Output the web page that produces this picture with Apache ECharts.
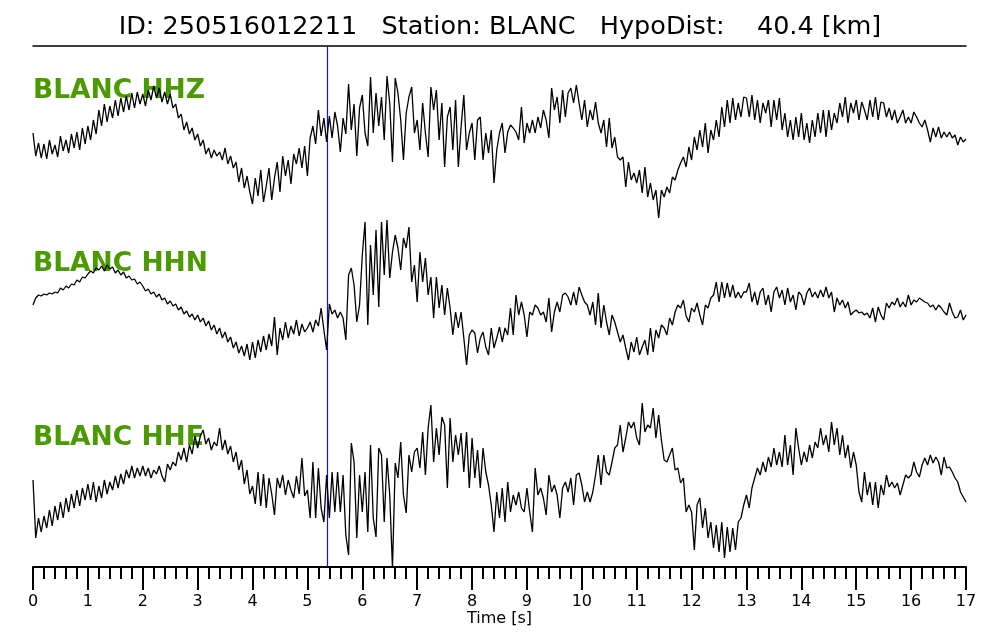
<!DOCTYPE html>
<html><head><meta charset="utf-8">
<script src="https://cdn.jsdelivr.net/npm/echarts@6/dist/echarts.min.js"></script>
<style>html,body{margin:0;padding:0;background:#fff}#c{width:1000px;height:640px}</style>
</head><body><div id="c"></div>
<script>
const eventId = '250516012211';
const station = 'BLANC';
const hypoDist = '40.4';
const channels = ['HHZ', 'HHN', 'HHE'];
const sampleInterval = 0.05; // s between samples
const timeMin = 0, timeMax = 17;
const pickTime = 5.36;

const hhz = [
15,-8,5,-10,4,-11,8,-6,3,-9,12,-3,8,-5,14,0,16,-2,20,4,
22,8,28,14,38,22,44,26,42,30,48,32,50,36,52,38,55,40,56,44,
54,42,58,48,62,50,60,46,56,44,54,40,44,30,34,18,26,14,20,8,
14,2,8,-6,0,-10,-2,-8,-4,-12,0,-16,-8,-20,-14,-34,-20,-40,-28,-44,
-56,-30,-48,-22,-54,-38,-20,-52,-30,-14,-44,-8,-28,-12,-36,-6,-16,0,-20,2,
-28,10,22,4,38,12,30,6,32,10,36,22,-4,30,14,64,18,44,-8,40,
53,15,2,71,15,55,22,51,8,72,45,-14,70,55,28,-12,35,51,61,15,
28,-2,45,15,-9,61,38,58,8,45,-19,31,41,-2,48,-19,21,53,-2,15,
25,-12,28,31,-12,15,-5,18,-35,-2,15,25,-5,16,23,20,16,8,41,5,
25,15,28,15,31,20,38,28,10,60,38,51,25,58,31,55,60,45,63,45,
28,48,21,38,28,46,25,15,28,1,30,0,11,-9,-12,-9,-39,-14,-32,-25,
-35,-22,-45,-19,-49,-35,-52,-42,-70,-42,-49,-39,-45,-29,-32,-22,-15,-9,-19,1,
-12,11,-2,18,1,25,-5,18,8,28,11,41,21,48,25,50,28,45,31,51,
50,31,53,28,48,25,45,35,48,21,48,28,50,18,35,11,28,8,31,11,
35,8,25,5,28,11,35,15,38,11,38,18,35,25,45,31,51,25,45,35,
48,28,46,38,28,48,31,51,28,46,45,31,40,28,38,25,31,38,25,31,
25,36,31,25,21,28,18,6,20,11,21,10,16,11,16,10,13,3,11,6,
9];

const hhn = [
-15,-8,-5,-6,-4,-5,-3,-4,-2,-3,2,0,4,2,6,5,10,8,13,12,
16,19,17,22,20,24,19,25,21,23,17,20,15,18,12,14,10,11,6,8,
4,-1,1,-4,-2,-7,-4,-10,-8,-14,-11,-16,-14,-20,-17,-24,-21,-27,-24,-30,
-25,-32,-28,-36,-31,-40,-35,-44,-38,-48,-42,-52,-47,-58,-52,-63,-56,-66,-54,-70,
-52,-68,-50,-62,-46,-60,-44,-56,-27,-65,-38,-50,-32,-48,-36,-44,-30,-46,-34,-42,
-38,-32,-42,-30,-36,-18,-40,-60,-14,-24,-20,-28,-22,-28,-50,15,22,5,-32,-15,
35,68,-35,45,-5,60,-17,68,15,70,12,38,55,42,20,52,42,63,8,25,
-12,38,8,32,-5,13,-28,13,-18,5,-25,2,-18,-45,-22,-38,-22,-48,-75,-45,
-40,-43,-63,-48,-42,-57,-65,-38,-58,-48,-37,-52,-38,-45,-18,-45,-5,-25,-12,-25,
-47,-22,-25,-15,-18,-25,-22,-32,-8,-42,-22,-12,-22,-5,-3,-7,-15,-2,-15,3,
-5,-12,-15,-25,-12,-35,-3,-38,-15,-32,-45,-25,-32,-42,-52,-45,-58,-70,-52,-62,
-47,-65,-57,-50,-65,-38,-62,-40,-48,-35,-38,-45,-28,-35,-22,-15,-18,-10,-26,-32,
-18,-22,-13,-25,-35,-15,-18,-8,-5,8,-12,8,-8,7,-7,5,-8,-2,-8,-2,
-2,7,-12,-2,-15,-2,2,-15,-5,-22,-2,3,-8,0,-15,2,-12,-5,-20,-2,
-5,-15,-3,2,-7,-2,-8,0,-7,3,-8,-2,-22,-8,-15,-10,-18,-12,-25,-22,
-20,-23,-22,-25,-23,-28,-18,-32,-17,-25,-30,-13,-18,-12,-15,-8,-17,-12,-17,-5,
-15,-10,-12,-8,-10,-12,-13,-17,-15,-20,-15,-18,-22,-25,-13,-22,-28,-27,-20,-30,
-25];

const hhe = [
0,-58,-38,-52,-36,-48,-30,-46,-26,-40,-22,-38,-18,-32,-14,-28,-10,-26,-8,-20,
-4,-20,-2,-22,-6,-18,0,-14,-2,-10,4,-8,6,-4,10,2,14,2,12,4,
14,4,12,2,10,6,14,4,-2,16,10,18,14,28,20,32,18,35,26,44,
32,44,50,36,42,30,38,34,52,30,40,26,34,18,28,10,20,-4,10,-14,
-6,-24,8,-26,6,-28,2,-14,-35,2,-8,5,-15,0,-10,-18,4,-14,22,-16,
-10,-38,18,-38,12,-28,-42,5,-38,8,-32,8,-32,5,-55,-75,37,18,-58,5,
-32,8,-52,35,-38,-57,32,25,-42,22,-15,-88,17,2,38,-15,-33,25,8,28,
32,12,48,5,52,75,18,52,25,63,55,-8,62,18,45,25,47,8,48,-8,
42,2,30,-8,32,8,-5,-25,-52,-12,-38,-8,-42,-2,-32,-15,-25,-12,-28,-32,
-8,-32,-52,12,-15,-8,-18,-35,5,-12,-5,-15,-38,-8,-2,-12,2,-25,5,7,
-5,-22,-12,-22,-12,5,25,-5,25,8,5,18,32,35,55,28,42,58,52,58,
42,35,77,48,55,52,72,42,65,40,20,18,25,32,10,12,-3,2,-32,-25,
-32,-70,-25,-18,-48,-28,-58,-42,-68,-45,-72,-42,-78,-47,-72,-48,-70,-42,-38,-25,
-15,-28,-8,2,12,5,18,8,23,13,32,15,28,13,45,15,35,5,52,32,
15,28,18,35,22,38,32,52,35,45,28,58,35,52,25,45,22,35,12,28,
15,-12,-22,8,-15,-2,-25,-2,-28,-5,-15,5,-7,-2,-8,-3,-15,-5,5,2,
5,18,8,3,15,22,15,25,17,23,18,5,23,12,13,8,2,-2,-12,-17,
-22];

const traces = [hhz, hhn, hhe];
const FONT = 'DejaVu Sans';

const gridBoxes = [
  {top: 46, height: 174, ymin: -72, ymax: 102},
  {top: 220, height: 173, ymin: -103, ymax: 70},
  {top: 393, height: 174, ymin: -87, ymax: 87}
];
const labelTops = [78, 251, 425];

const toXY = arr => arr.map((v, i) => [+(i * sampleInterval).toFixed(3), v]);

const chart = echarts.init(document.getElementById('c'), null, {renderer: 'canvas'});

const option = {
  animation: false,
  backgroundColor: '#fff',
  title: [
    {text: 'ID: ' + eventId + '   Station: ' + station + '   HypoDist:    ' + hypoDist + ' [km]',
     left: 'center', top: 14, padding: 0,
     textStyle: {fontFamily: FONT, fontSize: 25.5, fontWeight: 'normal', color: '#000'}}
  ].concat(channels.map((ch, i) => ({
     text: station + ' ' + ch, left: 33, top: labelTops[i], padding: 0, z: 1,
     textStyle: {fontFamily: FONT, fontSize: 26.5, fontWeight: 'bold', color: '#4a9a00'}}))),
  grid: gridBoxes.map(g => ({left: 33, right: 34, top: g.top, height: g.height, containLabel: false})),
  xAxis: gridBoxes.map((g, i) => {
    const base = {gridIndex: i, type: 'value', min: timeMin, max: timeMax, interval: 1,
      splitLine: {show: false}};
    if (i === 0) {
      return Object.assign(base, {position: 'top',
        axisLine: {show: true, onZero: false, lineStyle: {color: '#000', width: 1.5}},
        axisTick: {show: false}, axisLabel: {show: false}});
    }
    if (i === 1) {
      return Object.assign(base, {show: false, axisLine: {onZero: false}});
    }
    return Object.assign(base, {position: 'bottom',
      axisLine: {show: true, onZero: false, lineStyle: {color: '#000', width: 2}},
      axisTick: {show: true, length: 23, lineStyle: {color: '#000', width: 2}},
      minorTick: {show: true, splitNumber: 5, length: 12, lineStyle: {color: '#000', width: 2}},
      axisLabel: {show: true, margin: 27, color: '#000', fontFamily: FONT, fontSize: 16},
      name: 'Time [s]', nameLocation: 'middle', nameGap: 41,
      nameTextStyle: {color: '#000', fontFamily: FONT, fontSize: 16}});
  }),
  yAxis: gridBoxes.map((g, i) => ({gridIndex: i, type: 'value', min: g.ymin, max: g.ymax, show: false})),
  series: traces.map((arr, i) => ({
    type: 'line', name: channels[i], xAxisIndex: i, yAxisIndex: i,
    data: toXY(arr), showSymbol: false, symbol: 'none', clip: false, z: 10,
    lineStyle: {color: '#000', width: 1.3},
    markLine: {silent: true, symbol: ['none', 'none'], label: {show: false},
      lineStyle: {color: '#1010ff', width: 1.2, type: 'solid'},
      data: [{xAxis: pickTime}]}
  }))
};
chart.setOption(option);
</script>
</body></html>
